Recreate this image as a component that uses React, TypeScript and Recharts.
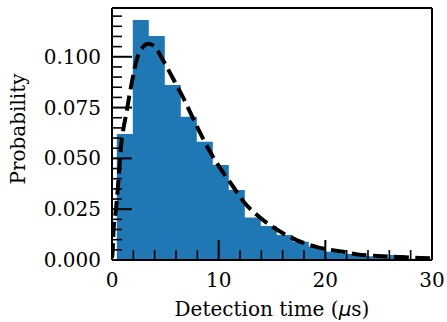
import React from 'react';
import { ComposedChart, Area, Line, XAxis, YAxis, ReferenceLine } from 'recharts';

// Histogram bin left edges (last value = right edge of final bin)
const binEdges = [0.45, 1.95, 3.45, 4.95, 6.45, 7.95, 9.45, 10.95, 12.45, 13.95, 15.45, 16.95, 18.45, 19.95, 21.45, 22.95, 24.45, 25.95, 27.45, 28.95, 30.45];
const binProb = [0.0620, 0.1181, 0.1102, 0.0861, 0.0705, 0.0582, 0.0468, 0.0344, 0.0209, 0.0167, 0.0123, 0.0090, 0.0065, 0.0041, 0.0030, 0.0018, 0.0010, 0.0024, 0.0006, 0.0005];

// Fitted curve (dashed)
const fitTime = [0, 0.06, 0.14, 0.375, 0.53, 0.69, 0.84, 1.05, 1.3, 1.81, 2.39, 2.9, 3.4, 4.0, 4.69, 5.72, 6.66, 7.9, 9.1, 10.1, 11.25, 12.4, 13.6, 15.75, 17.3, 19.3, 21.5, 23.0, 24.9, 26.8, 28.9, 30];
const fitProb = [0.001, 0.0041, 0.0139, 0.0251, 0.0344, 0.0451, 0.0556, 0.0640, 0.0710, 0.0861, 0.0998, 0.1048, 0.1064, 0.1050, 0.0992, 0.0893, 0.0800, 0.0664, 0.0541, 0.0455, 0.0369, 0.0283, 0.0221, 0.0140, 0.0098, 0.0062, 0.0042, 0.0027, 0.0020, 0.0015, 0.0010, 0.0008];

const xTicks = [0, 2, 4, 6, 8, 10, 12, 14, 16, 18, 20, 22, 24, 26, 28, 30];
const xMajor = [0, 10, 20, 30];
const yTicks = [0, 0.005, 0.01, 0.015, 0.02, 0.025, 0.03, 0.035, 0.04, 0.045, 0.05, 0.055, 0.06, 0.065, 0.07, 0.075, 0.08, 0.085, 0.09, 0.095, 0.1, 0.105, 0.11, 0.115, 0.12];
const yMajor = [0, 0.025, 0.05, 0.075, 0.1];

const histData = binEdges.map((x, i) => ({ x, p: binProb[Math.min(i, binProb.length - 1)] }));
const fitData = fitTime.map((x, i) => ({ x, y: fitProb[i] }));

const FONT = '"DejaVu Serif", serif';

const XTick = (props: any) => {
  const { x, y, payload } = props;
  const v = payload.value;
  const major = xMajor.some((m) => Math.abs(m - v) < 1e-9);
  return (
    <g>
      <line x1={x} x2={x} y1={y} y2={y - (major ? 20 : 10)} stroke="#000" strokeWidth={major ? 2 : 1.6} />
      {major && (
        <text x={x} y={y + 27} textAnchor="middle" fontSize={20} fontFamily={FONT} fill="#000">
          {String(v)}
        </text>
      )}
    </g>
  );
};

const YTick = (props: any) => {
  const { x, y, payload } = props;
  const v = payload.value;
  const major = yMajor.some((m) => Math.abs(m - v) < 1e-9);
  return (
    <g>
      <line x1={x} x2={x + (major ? 20 : 10)} y1={y} y2={y} stroke="#000" strokeWidth={major ? 2 : 1.6} />
      {major && (
        <text x={x - 11} y={y + 7} textAnchor="end" fontSize={20} fontFamily={FONT} fill="#000">
          {v.toFixed(3)}
        </text>
      )}
    </g>
  );
};

export default function App() {
  return (
    <div style={{ position: 'absolute', left: 0, top: 0, width: 447, height: 322, background: '#fff' }}>
      <ComposedChart width={447} height={322} margin={{ top: 8, right: 15, bottom: 0, left: 0 }}>
        <XAxis
          dataKey="x"
          type="number"
          domain={[0, 30]}
          allowDataOverflow
          ticks={xTicks}
          interval={0}
          height={62}
          tickSize={0}
          tickMargin={0}
          tickLine={false}
          tick={XTick}
          axisLine={{ stroke: '#000', strokeWidth: 2 }}
          label={{
            content: () => (
              <text x={272} y={316} textAnchor="middle" fontSize={20} fontFamily={FONT} fill="#000">
                Detection time (
                <tspan fontStyle="italic" fontFamily='"DejaVu Sans", sans-serif'>μ</tspan>
                s)
              </text>
            ),
          }}
        />
        <YAxis
          type="number"
          domain={[0, 0.124]}
          allowDataOverflow
          ticks={yTicks}
          interval={0}
          width={112}
          tickSize={0}
          tickMargin={0}
          tickLine={false}
          tick={YTick}
          axisLine={{ stroke: '#000', strokeWidth: 2 }}
          label={{
            content: () => (
              <text
                x={25}
                y={129}
                transform="rotate(-90 25 129)"
                textAnchor="middle"
                fontSize={20}
                fontFamily={FONT}
                fill="#000"
              >
                Probability
              </text>
            ),
          }}
        />
        <Area
          data={histData}
          dataKey="p"
          type="stepAfter"
          fill="#1f77b4"
          fillOpacity={1}
          stroke="none"
          isAnimationActive={false}
        />
        <Line
          data={fitData}
          dataKey="y"
          type="monotone"
          stroke="#000"
          strokeWidth={4}
          strokeDasharray="14.8 6.4"
          dot={false}
          activeDot={false}
          isAnimationActive={false}
        />
        <ReferenceLine x={30} stroke="#000" strokeWidth={2} ifOverflow="extendDomain" />
        <ReferenceLine y={0.124} stroke="#000" strokeWidth={2} ifOverflow="extendDomain" />
      </ComposedChart>
    </div>
  );
}
